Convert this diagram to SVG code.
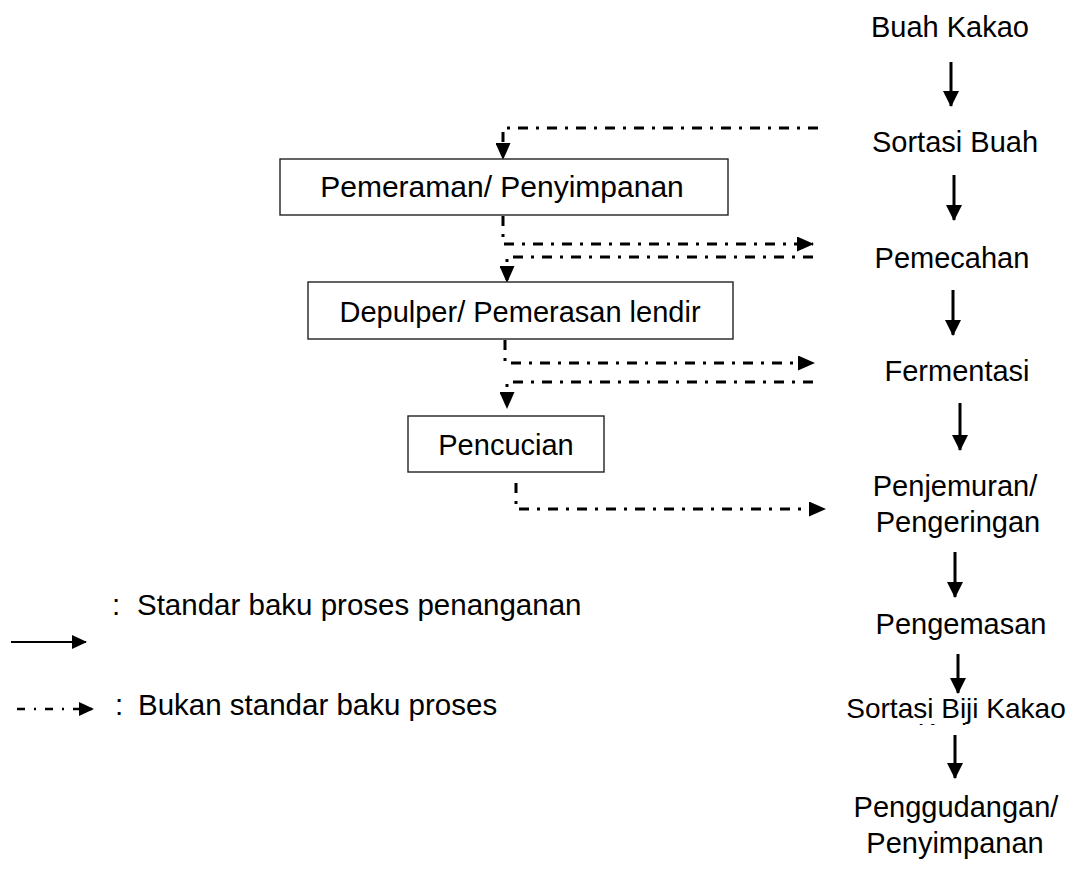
<svg xmlns="http://www.w3.org/2000/svg" width="1085" height="888" viewBox="0 0 1085 888">
<defs>
<style>
text{font-family:"Liberation Sans",Arial,sans-serif;font-size:29px;fill:#000}
.c{text-anchor:middle}
.box{fill:#fff;stroke:#222;stroke-width:1.4}
.solid{fill:none;stroke:#000;stroke-width:3}
.dash{fill:none;stroke:#000;stroke-width:3;stroke-dasharray:10 8 3 8}
</style>
<marker id="ah" markerUnits="userSpaceOnUse" markerWidth="16" markerHeight="16" refX="15" refY="8" orient="auto" viewBox="0 0 16 16">
<path d="M0,0 L16,8 L0,16 z" fill="#000"/>
</marker>
<marker id="dh" markerUnits="userSpaceOnUse" markerWidth="17" markerHeight="15" refX="16" refY="7.5" orient="auto" viewBox="0 0 17 15">
<path d="M0,0 L17,7.5 L0,15 z" fill="#000"/>
</marker>
<marker id="lh" markerUnits="userSpaceOnUse" markerWidth="15" markerHeight="14" refX="14" refY="7" orient="auto" viewBox="0 0 15 14">
<path d="M0,0 L15,7 L0,14 z" fill="#000"/>
</marker>
<clipPath id="clipK"><rect x="880" y="719" width="150" height="6"/></clipPath>
</defs>

<g id="connectors">
<path class="solid" marker-end="url(#ah)" d="M951,62 V106"/>
<path class="solid" marker-end="url(#ah)" d="M954,175 V220"/>
<path class="solid" marker-end="url(#ah)" d="M953,290 V335"/>
<path class="solid" marker-end="url(#ah)" d="M960,403 V450"/>
<path class="solid" marker-end="url(#ah)" d="M955,552 V597"/>
<path class="solid" marker-end="url(#ah)" d="M958,654 V693"/>
<path class="solid" marker-end="url(#ah)" d="M955,735 V778"/>
<path class="dash" marker-end="url(#dh)" d="M818,128 H503 V159"/>
<path class="dash" marker-end="url(#dh)" d="M503,216 V244 H813"/>
<path class="dash" marker-end="url(#dh)" d="M813,257 H507 V282"/>
<path class="dash" marker-end="url(#dh)" d="M505,340 V363 H814"/>
<path class="dash" marker-end="url(#dh)" d="M813,382 H507 V408"/>
<path class="dash" marker-end="url(#dh)" d="M516,483 V509 H825"/>
</g>

<g id="n-buah"><text class="c" x="950" y="37">Buah Kakao</text></g>
<g id="n-sortasi-buah"><text class="c" x="955" y="152">Sortasi Buah</text></g>
<g id="n-pemecahan"><text class="c" x="952" y="268">Pemecahan</text></g>
<g id="n-fermentasi"><text class="c" x="957" y="381">Fermentasi</text></g>
<g id="n-penjemuran"><text class="c" x="955" y="496">Penjemuran/</text><text class="c" x="958" y="532">Pengeringan</text></g>
<g id="n-pengemasan"><text class="c" x="961" y="634">Pengemasan</text></g>
<g id="n-sortasi-biji"><text class="c" x="956" y="718" style="font-size:28px">Sortasi Biji Kakao</text><text class="c" x="958" y="743" style="font-size:28px" clip-path="url(#clipK)">Kering</text></g>
<g id="n-penggudangan"><text class="c" x="956" y="817">Penggudangan/</text><text class="c" x="955" y="853">Penyimpanan</text></g>

<g id="n-pemeraman"><rect class="box" x="280" y="159" width="448" height="56"/><text class="c" x="502" y="197" style="font-size:30px">Pemeraman/ Penyimpanan</text></g>
<g id="n-depulper"><rect class="box" x="308" y="282" width="425" height="57"/><text class="c" x="520" y="322">Depulper/ Pemerasan lendir</text></g>
<g id="n-pencucian"><rect class="box" x="408" y="416" width="196" height="56"/><text class="c" x="506" y="455">Pencucian</text></g>

<g id="legend">
<path d="M11,642 H86" fill="none" stroke="#000" stroke-width="2" marker-end="url(#lh)"/>
<text x="112" y="615" style="font-size:29.5px">:<tspan x="137">Standar baku proses penanganan</tspan></text>
<path d="M17,709 H93" fill="none" stroke="#000" stroke-width="2.5" stroke-dasharray="8 9 2 9" marker-end="url(#lh)"/>
<text x="115" y="715" style="font-size:29.5px">:<tspan x="138">Bukan standar baku proses</tspan></text>
</g>
</svg>
